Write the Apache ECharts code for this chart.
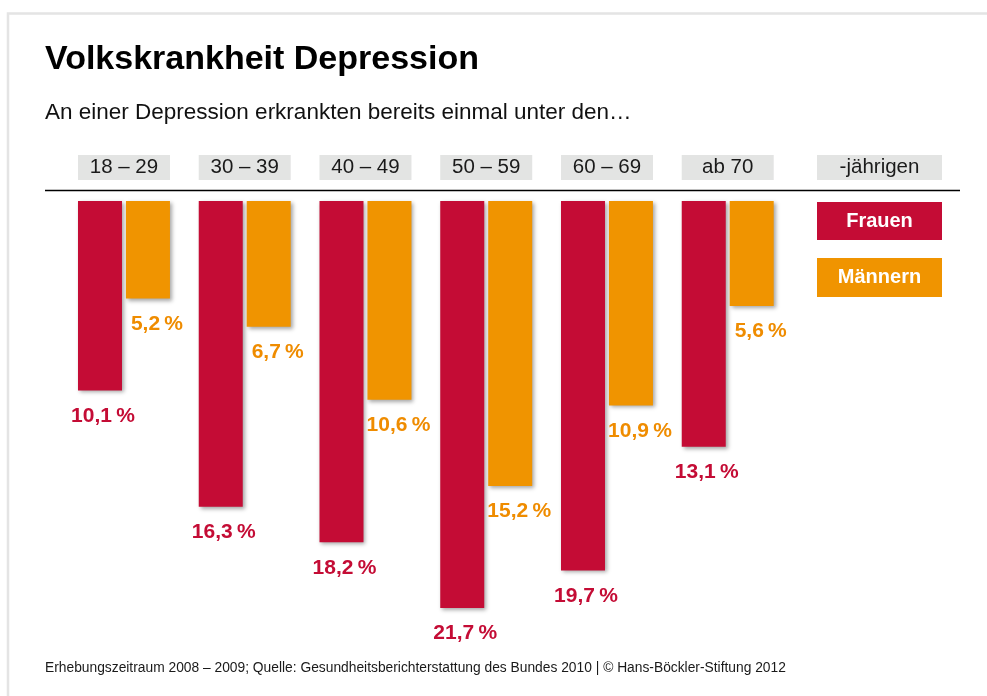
<!DOCTYPE html>
<html>
<head>
<meta charset="utf-8">
<script src="https://cdn.jsdelivr.net/npm/echarts@6/dist/echarts.min.js"></script>
<style>
html,body{margin:0;padding:0;background:#fff;}
#c{width:987px;height:696px;}
</style>
</head>
<body>
<div id="c"></div>
<script>
var categories = ['18 – 29', '30 – 39', '40 – 49', '50 – 59', '60 – 69', 'ab 70'];
var frauen = [10.1, 16.3, 18.2, 21.7, 19.7, 13.1];
var maenner = [5.2, 6.7, 10.6, 15.2, 10.9, 5.6];
var seriesNames = ['Frauen', 'Männern'];

var RED = '#c40c35';
var ORANGE = '#f09400';
var FONT = '"Liberation Sans", Arial, sans-serif';

function fmt(v) {
  return v.toFixed(1).replace('.', ',') + '\u2009%';
}

var chart = echarts.init(document.getElementById('c'), null, {renderer: 'canvas'});

var labelBase = {
  show: true,
  position: 'bottom',
  distance: 15,
  fontFamily: FONT,
  fontWeight: 'bold',
  fontSize: 21,
  formatter: function (p) { return fmt(p.value); }
};

chart.setOption({
  animation: false,
  backgroundColor: '#ffffff',
  grid: {left: 63.6, right: 198.9, top: 201, bottom: 26.1, containLabel: false},
  xAxis: {
    type: 'category',
    data: categories,
    position: 'top',
    axisLine: {show: false},
    axisTick: {show: false},
    splitLine: {show: false},
    axisLabel: {
      margin: 21,
      fontFamily: FONT,
      fontSize: 20.5,
      color: '#1a1a1a',
      backgroundColor: '#e3e4e3',
      width: 92,
      height: 25,
      lineHeight: 25,
      align: 'center',
      verticalAlign: 'bottom'
    }
  },
  yAxis: {
    type: 'value',
    inverse: true,
    min: 0,
    max: 25,
    show: false
  },
  series: [
    {
      name: seriesNames[0],
      type: 'bar',
      data: frauen,
      barWidth: 44,
      barGap: '9%',
      itemStyle: {
        color: RED,
        shadowColor: 'rgba(0,0,0,0.35)',
        shadowBlur: 4,
        shadowOffsetX: 2,
        shadowOffsetY: 2
      },
      label: Object.assign({}, labelBase, {color: RED, offset: [3, 0]})
    },
    {
      name: seriesNames[1],
      type: 'bar',
      data: maenner,
      barWidth: 44,
      itemStyle: {
        color: ORANGE,
        shadowColor: 'rgba(0,0,0,0.35)',
        shadowBlur: 4,
        shadowOffsetX: 2,
        shadowOffsetY: 2
      },
      label: Object.assign({}, labelBase, {color: '#ef8c00', offset: [9, 0]})
    }
  ],
  graphic: [
    {type: 'polyline', shape: {points: [[8, 696], [8, 13.5], [987, 13.5]]}, style: {stroke: '#e4e4e4', lineWidth: 2.5, fill: null}},
    {type: 'text', left: 45, top: 43, style: {text: 'Volkskrankheit Depression', font: 'bold 34px ' + FONT, fill: '#000'}},
    {type: 'text', left: 45, top: 101, style: {text: 'An einer Depression erkrankten bereits einmal unter den…', font: '22.5px ' + FONT, fill: '#111'}},
    {type: 'line', shape: {x1: 45, y1: 190.5, x2: 960, y2: 190.5}, style: {stroke: '#000', lineWidth: 1.6}},
    {type: 'rect', shape: {x: 817, y: 155, width: 125, height: 25}, style: {fill: '#e3e4e3'}},
    {type: 'text', x: 879.5, y: 167.5, style: {text: '-jährigen', font: '20.5px ' + FONT, fill: '#1a1a1a', align: 'center', verticalAlign: 'middle'}},
    {type: 'rect', shape: {x: 817, y: 202, width: 125, height: 38}, style: {fill: RED}},
    {type: 'text', x: 879.5, y: 221, style: {text: seriesNames[0], font: 'bold 20px ' + FONT, fill: '#fff', align: 'center', verticalAlign: 'middle'}},
    {type: 'rect', shape: {x: 817, y: 258, width: 125, height: 39}, style: {fill: ORANGE}},
    {type: 'text', x: 879.5, y: 277.5, style: {text: seriesNames[1], font: 'bold 20px ' + FONT, fill: '#fff', align: 'center', verticalAlign: 'middle'}},
    {type: 'text', left: 45, top: 661, style: {text: 'Erhebungszeitraum 2008 – 2009; Quelle: Gesundheitsberichterstattung des Bundes 2010 | © Hans-Böckler-Stiftung 2012', font: '13.8px ' + FONT, fill: '#1a1a1a'}}
  ]
});
</script>
</body>
</html>
